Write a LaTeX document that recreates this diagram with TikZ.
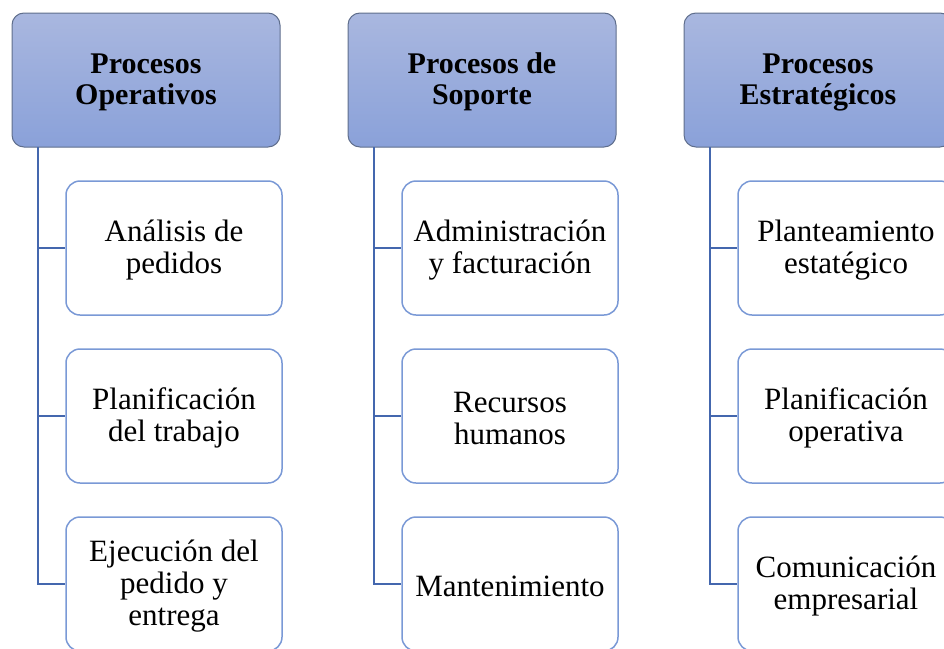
\documentclass[tikz,border=0pt]{standalone}
\usepackage{fontspec}
\setmainfont{Liberation Serif}
\definecolor{hdtop}{HTML}{A9B7DF}
\definecolor{hdbot}{HTML}{8AA1D9}
\definecolor{hdedge}{HTML}{5F6E8C}
\definecolor{chedge}{HTML}{7A99D6}
\definecolor{conn}{HTML}{4467AE}
\tikzset{
  hdbox/.style={rectangle, rounded corners=12pt, draw=hdedge, line width=1pt,
    top color=hdtop, bottom color=hdbot, minimum width=268pt, minimum height=134pt,
    inner sep=0pt},
  hdtext/.style={align=center, inner sep=0pt, font=\fontsize{30}{31}\selectfont\bfseries},
  chbox/.style={rectangle, rounded corners=14pt, draw=chedge, line width=1.5pt,
    fill=white, minimum width=216pt, minimum height=134pt, inner sep=0pt},
  chtext/.style={align=center, inner sep=0pt, font=\fontsize{31}{32}\selectfont},
  link/.style={draw=conn, line width=2.6pt}
}
\begin{document}
\begin{tikzpicture}[x=1pt,y=-1pt]
\useasboundingbox (0,0) rectangle (944,648);
\foreach \i/\hd/\ca/\cb/\cc in {
  0/{Procesos\\Operativos}/{Análisis de\\pedidos}/{Planificación\\del trabajo}/{Ejecución del\\pedido y\\entrega},
  1/{Procesos de\\Soporte}/{Administración\\y facturación}/{Recursos\\humanos}/{Mantenimiento},
  2/{Procesos\\Estratégicos}/{Planteamiento\\estatégico}/{Planificación\\operativa}/{Comunicación\\empresarial}}{
  \begin{scope}[xshift=\i*336pt]
    \node[hdbox] (h\i) at (146,80) {};
    \node[hdtext] (ht\i) at (146,82) {\hd};
    \node[chbox] (a\i) at (174,248) {};
    \node[chtext] (at\i) at (174,250) {\ca};
    \node[chbox] (b\i) at (174,416) {};
    \node[chtext] (bt\i) at (174,418) {\cb};
    \node[chbox] (c\i) at (174,584) {};
    \node[chtext] (ct\i) at (174,586) {\cc};
    \coordinate (t\i) at (38,147);
    \draw[link] (t\i) |- (a\i.west);
    \draw[link] (t\i) |- (b\i.west);
    \draw[link] (t\i) |- (c\i.west);
  \end{scope}
}
\end{tikzpicture}
\end{document}
